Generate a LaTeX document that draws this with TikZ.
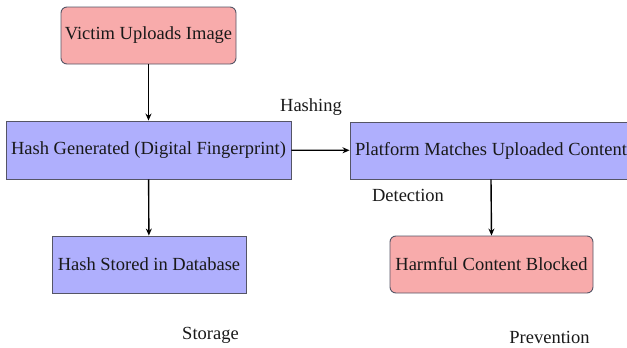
\documentclass[tikz,border=0pt]{standalone}
\usepackage{fontspec}
\setmainfont{Liberation Serif}
\usetikzlibrary{arrows.meta}
\definecolor{pinkfill}{HTML}{F8ABAB}
\definecolor{bluefill}{HTML}{AFAFFD}
\definecolor{edge}{HTML}{555566}
\begin{document}
\begin{tikzpicture}[x=1pt,y=-1pt,
  base/.style={draw=edge,line width=0.9pt,inner sep=0pt,align=center,text=black!90,font=\fontsize{18.5}{21}\selectfont},
  redbox/.style={base,fill=pinkfill,rounded corners=6pt},
  bluebox/.style={base,fill=bluefill},
  lbl/.style={inner sep=0pt,text=black!90,font=\fontsize{18.5}{21}\selectfont},
  arr/.style={-{Stealth[length=7pt,width=6pt]},line width=1.4pt}]
\useasboundingbox (0,0) rectangle (627,348);
\node[redbox,minimum width=175pt,minimum height=57pt] (victim) at (148.5,35.5) {Victim Uploads Image};
\node[bluebox,minimum width=285pt,minimum height=58pt] (hashgen) at (148.5,150) {Hash Generated (Digital Fingerprint)};
\node[bluebox,minimum width=282pt,minimum height=57pt] (platform) at (491,150.5) {Platform Matches Uploaded Content};
\node[bluebox,minimum width=194pt,minimum height=57pt] (stored) at (149,264.5) {Hash Stored in Database};
\node[redbox,minimum width=203pt,minimum height=57pt] (blocked) at (491.5,264.5) {Harmful Content Blocked};
\node[lbl] (hashing) at (311,107) {Hashing};
\node[lbl] (detection) at (408,195) {Detection};
\node[lbl] (storage) at (210.5,335) {Storage};
\node[lbl] (prevention) at (549.5,337) {Prevention};
\draw[arr] (victim) -- (hashgen);
\draw[arr] (hashgen) -- (platform);
\draw[arr] (hashgen) -- (stored);
\draw[arr] (platform.south) -- (blocked.north);
\end{tikzpicture}
\end{document}
